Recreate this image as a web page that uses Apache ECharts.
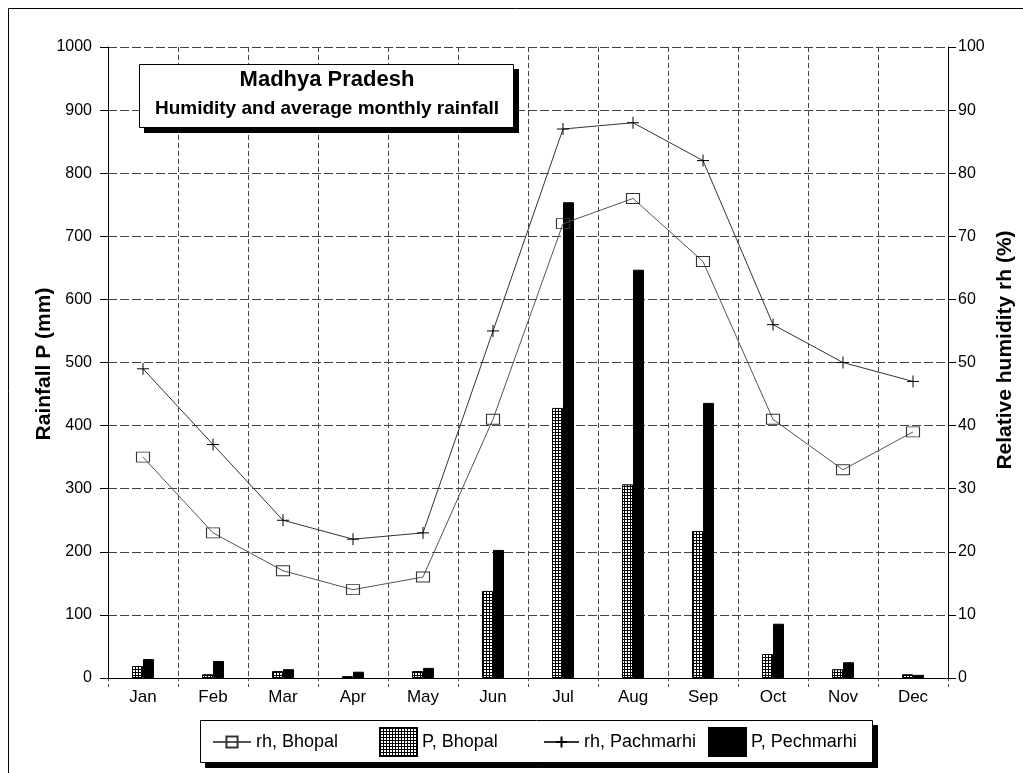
<!DOCTYPE html>
<html>
<head>
<meta charset="utf-8">
<script src="https://cdn.jsdelivr.net/npm/echarts@6/dist/echarts.min.js"></script>
<style>
html,body{margin:0;padding:0;background:#fff;}
#chart{width:1023px;height:773px;}
</style>
</head>
<body>
<div id="chart"></div>
<script>
const months = ['Jan','Feb','Mar','Apr','May','Jun','Jul','Aug','Sep','Oct','Nov','Dec'];
const rhBhopal = [35, 23, 17, 14, 16, 41, 72, 76, 66, 41, 33, 39];
const pBhopal = [19, 6, 11, 3, 11, 138, 428, 307, 233, 38, 14, 6];
const rhPachmarhi = [49, 37, 25, 22, 23, 55, 87, 88, 82, 56, 50, 47];
const pPechmarhi = [30, 27, 14, 10, 16, 203, 754, 647, 436, 86, 25, 5];
const leftTicks = {min: 0, max: 1000, interval: 100};
const rightTicks = {min: 0, max: 100, interval: 10};
const leftName = 'Rainfall P (mm)';
const rightName = 'Relative humidity rh (%)';

const FONT = '"Liberation Sans", Arial, sans-serif';

// hatch pattern for P, Bhopal
const pc = document.createElement('canvas');
pc.width = 3; pc.height = 3;
const pctx = pc.getContext('2d');
pctx.fillStyle = '#fff'; pctx.fillRect(0, 0, 3, 3);
pctx.fillStyle = '#000'; pctx.fillRect(0, 0, 3, 1); pctx.fillRect(0, 0, 1, 3);
const hatch = {image: pc, repeat: 'repeat'};

const chart = echarts.init(document.getElementById('chart'), null, {renderer: 'canvas'});

const legendText = {fontFamily: FONT, fontSize: 18, color: '#000'};
function mkLegend(name, left, top, w, h, icon) {
  const l = {data: [name], left: left, top: top, itemWidth: w, itemHeight: h, padding: 0,
    textStyle: legendText, selectedMode: false, z: 10};
  if (icon) l.icon = icon;
  return l;
}

function box(x, y, w, h) {
  return [
    {type: 'rect', z: 4, shape: {x: x + 5, y: y + 5, width: w, height: h}, style: {fill: '#000'}},
    {type: 'rect', z: 5, shape: {x: x + 0.5, y: y + 0.5, width: w - 1, height: h - 1},
      style: {fill: '#fff', stroke: '#000', lineWidth: 1}}
  ];
}

const option = {
  backgroundColor: '#fff',
  animation: false,
  textStyle: {fontFamily: FONT},
  grid: {left: 108, right: 75, top: 47, bottom: 95, containLabel: false, outerBoundsMode: 'none'},
  legend: [
    mkLegend('rh, Bhopal', 212, 733, 38, 14),
    mkLegend('P, Bhopal', 379, 727, 37, 28, 'rect'),
    mkLegend('rh, Pachmarhi', 543, 733, 35, 14),
    mkLegend('P, Pechmarhi', 708, 727, 37, 28, 'rect')
  ],
  graphic: [
    {type: 'rect', z: 0, shape: {x: 8.5, y: 8.5, width: 1100, height: 1000},
      style: {fill: 'none', stroke: '#000', lineWidth: 1}},
    {type: 'text', z: 6, x: 44, y: 364, rotation: Math.PI / 2,
      style: {text: leftName, font: 'bold 21px ' + FONT, fill: '#000', textAlign: 'center', textVerticalAlign: 'middle'}},
    {type: 'text', z: 6, x: 1005, y: 350, rotation: Math.PI / 2,
      style: {text: rightName, font: 'bold 21px ' + FONT, fill: '#000', textAlign: 'center', textVerticalAlign: 'middle'}}
  ].concat(box(139, 64, 375, 64)).concat([
    {type: 'text', z: 6, x: 327, y: 80,
      style: {text: 'Madhya Pradesh', font: 'bold 22px ' + FONT, fill: '#000', textAlign: 'center', textVerticalAlign: 'middle'}},
    {type: 'text', z: 6, x: 327, y: 109,
      style: {text: 'Humidity and average monthly rainfall', font: 'bold 19px ' + FONT, fill: '#000', textAlign: 'center', textVerticalAlign: 'middle'}}
  ]).concat(box(200, 720, 673, 43)),
  xAxis: {
    type: 'category', data: months, boundaryGap: true,
    axisLine: {lineStyle: {color: '#000', width: 1}},
    axisTick: {show: true, length: 9, lineStyle: {color: '#444', type: [3, 3]}},
    axisLabel: {color: '#000', fontSize: 17, fontFamily: FONT, margin: 11},
    splitLine: {show: true, lineStyle: {color: '#444', type: [5, 3], width: 1}}
  },
  yAxis: [
    {type: 'value', position: 'left', min: leftTicks.min, max: leftTicks.max, interval: leftTicks.interval,
      axisLine: {show: true, lineStyle: {color: '#000', width: 1}},
      axisTick: {show: true, length: 8, lineStyle: {color: '#000'}},
      axisLabel: {color: '#000', fontSize: 16, fontFamily: FONT, margin: 16, formatter: v => String(v)},
      splitLine: {show: true, lineStyle: {color: '#444', type: [9, 3], width: 1}}
    },
    {type: 'value', position: 'right', min: rightTicks.min, max: rightTicks.max, interval: rightTicks.interval,
      axisLine: {show: true, lineStyle: {color: '#000', width: 1}},
      axisTick: {show: true, length: 8, lineStyle: {color: '#000'}},
      axisLabel: {color: '#000', fontSize: 16, fontFamily: FONT, margin: 10, formatter: v => String(v)},
      splitLine: {show: false}
    }
  ],
  series: [
    {name: 'rh, Bhopal', type: 'line', yAxisIndex: 1, data: rhBhopal, z: 5,
      symbol: 'rect', symbolSize: [13, 10],
      itemStyle: {color: 'rgba(255,255,255,0)', borderColor: '#333', borderWidth: 1},
      lineStyle: {color: '#555', width: 1}},
    {name: 'P, Bhopal', type: 'bar', yAxisIndex: 0, data: pBhopal, barWidth: 11, barGap: '0%',
      itemStyle: {color: hatch, borderColor: '#000', borderWidth: 1}},
    {name: 'rh, Pachmarhi', type: 'line', yAxisIndex: 1, data: rhPachmarhi, z: 5,
      symbol: 'path://M0,6L12,6M6,0L6,12', symbolSize: 12,
      itemStyle: {color: 'rgba(255,255,255,0)', borderColor: '#000', borderWidth: 1},
      lineStyle: {color: '#333', width: 1}},
    {name: 'P, Pechmarhi', type: 'bar', yAxisIndex: 0, data: pPechmarhi, barWidth: 11, barGap: '0%',
      itemStyle: {color: '#000', borderColor: '#000', borderWidth: 1}}
  ]
};
chart.setOption(option);
</script>
</body>
</html>
